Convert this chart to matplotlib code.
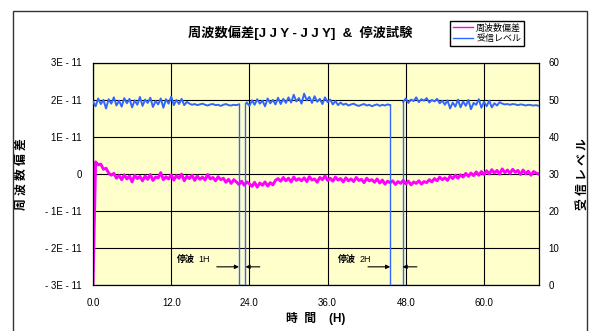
import numpy as np
import matplotlib
matplotlib.use('Agg')
import matplotlib.pyplot as plt
from matplotlib.patches import Rectangle
from matplotlib.lines import Line2D

plt.rcParams['font.family'] = ['Liberation Sans', 'Noto Sans CJK JP', 'DejaVu Sans']

# one reading every 0.4 h
hours = np.round(np.arange(0, 68.41, 0.4), 1)

# frequency deviation JJY-JJY, in units of 1E-12
freq_dev = [
    -30, 3.2, 2.4, 2.6, 1.2, 1.5, 0.2, -0.4, 0.1, -1.2,
    -0.5, -1.6, -0.3, -1.4, -0.6, -2.2, -0.4, -1.3, -0.7, -1.9,
    -0.6, -1.5, -0.2, -1.8, -0.9, -1.1, 0.3, -1.6, -0.8, -1.4,
    -0.3, -1.7, -0.5, -1.2, -0.1, -1.9, -0.7, -1.3, -0.4, -1.8,
    -0.6, -1.5, -0.9, -1.7, -0.2, -1.4, -1.0, -1.9, -0.8, -1.6,
    -1.2, -2.3, -1.5, -2.6, -1.6, -2.2, -2.9, -2.0, -3.1, -2.2,
    -2.7, -3.4, -2.3, -3.6, -2.5, -3.1, -2.2, -3.3, -2.4, -3.0,
    -1.8, -1.3, -2.0, -1.0, -1.9, -1.2, -2.2, -0.9, -1.8, -1.3,
    -1.9, -1.1, -2.1, -0.8, -1.7, -1.4, -2.3, -1.0, -1.6, -0.6,
    -1.8, -1.2, -2.0, -0.9, -1.7, -1.3, -2.2, -1.1, -1.9, -1.4,
    -2.1, -1.0, -1.8, -1.5, -2.4, -1.2, -1.9, -1.6, -2.3, -1.4,
    -2.5, -1.7, -2.8, -2.0, -2.4, -1.9, -2.9, -2.1, -2.6, -1.8,
    -2.7, -2.0, -3.0, -2.2, -2.6, -1.9, -2.8, -2.1, -2.4, -1.6,
    -2.2, -1.3, -1.9, -0.9, -1.6, -1.1, -1.8, -0.6, -1.3, -0.4,
    -1.2, -0.3, -0.9, 0.1, -0.7, 0.2, -0.5, 0.5, -0.4, 0.6,
    -0.2, 0.8, 0.0, 1.1, 0.2, 0.9, -0.1, 1.3, 0.3, 1.0,
    0.1, 1.2, 0.4, 0.9, -0.2, 1.0, 0.0, 0.7, -0.4, 0.6,
    0.2, -0.1,
]

# received level (0 while the carrier is stopped)
level = [
    49.5, 48.2, 50.3, 48.8, 49.9, 47.6, 50.1, 48.9, 50.6, 48.4,
    49.7, 48.1, 50.4, 49.0, 50.2, 47.9, 49.8, 48.6, 50.7, 48.3,
    50.0, 49.1, 50.5, 48.0, 49.6, 48.7, 50.3, 47.8, 50.1, 48.9,
    50.8, 48.5, 49.9,
    48.8, 50.2, 48.5, 49.4,
    48.9, 48.6, 48.8, 48.5, 48.7, 48.9, 48.6, 48.4, 48.7, 48.8,
    48.5, 48.6, 48.3, 48.6, 48.8, 48.5, 48.4, 48.6, 48.5, 48.7,
    0, 0,
    49.2, 48.3, 49.8, 48.6, 50.1, 48.9, 49.7, 48.2, 50.3, 49.0,
    49.9, 48.7, 50.5, 48.8, 50.2, 49.1,
    50.6, 49.2, 51.3, 49.5, 50.4, 48.9, 51.6, 49.8, 50.7, 49.1,
    50.9, 49.4, 50.2, 48.8, 50.6, 49.3, 50.0, 48.7,
    49.6, 48.5, 49.2, 48.6, 48.9, 48.4, 48.7, 48.9, 48.5, 48.3,
    48.6, 48.8, 48.4, 48.6, 48.2, 48.5, 48.7, 48.3, 48.6, 48.4,
    48.7, 48.5,
    0, 0, 0, 0,
    49.4, 50.3, 49.1, 50.0, 49.6, 50.6, 49.3, 50.1, 49.7, 50.4,
    49.2, 49.9, 49.5, 50.2, 49.0, 49.7,
    48.6, 49.8, 47.6, 49.2, 48.1, 50.0, 47.9, 49.5, 48.3, 49.9,
    47.4, 49.1, 48.6, 50.1, 47.8, 49.4, 48.2, 49.7, 47.9, 49.0,
    48.4, 49.3,
    48.9, 48.7, 48.8, 48.6, 48.8, 48.7, 48.5, 48.7, 48.6, 48.4,
    48.6, 48.5, 48.4, 48.5, 48.3,
]

# carrier stop test: off / back on [h]
stop_on = [22.4, 45.6]
stop_off = [23.4, 47.5]
stop_labels = ['1H', '2H']

x_ticks = [0, 12, 24, 36, 48, 60]
freq_ticks = [-3e-11, -2e-11, -1e-11, 0, 1e-11, 2e-11, 3e-11]
freq_labels = ['-3E-11', '-2E-11', '-1E-11', '0', '1E-11', '2E-11', '3E-11']
level_ticks = [0, 10, 20, 30, 40, 50, 60]

MAGENTA = '#FF00FF'
BLUE = '#3366FF'
W, H = 597, 331

freq = np.array(freq_dev) * 1e-12
level = np.array(level)

fig = plt.figure(figsize=(W / 100, H / 100), dpi=100)
ax = fig.add_axes([93 / W, 1 - 285 / H, (539 - 93) / W, (285 - 62.5) / H])
ax.set_facecolor('#FFFFCC')

ax.plot(hours, freq, color=MAGENTA, lw=2.1)
ax.set_xlim(0, 68.44)
ax.set_ylim(-3e-11, 3e-11)
ax.set_xticks(x_ticks)
ax.set_xticklabels([f'{t:.1f}' for t in x_ticks])
ax.set_yticks(freq_ticks)
ax.set_yticklabels([s.replace('-', ' - ').strip() for s in freq_labels])
ax.grid(True, color='black', lw=0.8)
ax.tick_params(axis='x', length=0, pad=9, labelsize=7)
ax.tick_params(axis='y', length=0, pad=8, labelsize=7)
for sp in ax.spines.values():
    sp.set_color('black')
    sp.set_linewidth(0.9)

ax2 = ax.twinx()
level_line = np.where(level > 0, level, np.nan)
ax2.plot(hours, level_line, color=BLUE, lw=1.4)
for on, off in zip(stop_on, stop_off):
    before = level[hours <= on][-1]
    t_after = hours[hours >= off][0]
    after = level[hours >= off][0]
    ax2.plot([on, on, off, off, t_after], [before, 0, 0, after, after],
             color=BLUE, lw=1.0)
ax2.set_ylim(0, 60)
ax2.set_yticks(level_ticks)
ax2.tick_params(axis='y', length=0, pad=7, labelsize=7)
for sp in ax2.spines.values():
    sp.set_visible(False)

# arrows marking each stop
for on, off, lab, t0 in zip(stop_on, stop_off, stop_labels, [12.9, 37.6]):
    ax2.text(t0, 6.8, '停波', fontsize=6.5, fontweight='bold', va='center')
    ax2.text(t0 + 3.3, 6.8, lab, fontsize=6.5, va='center')
    ax2.annotate('', xy=(on, 4.9), xytext=(on - 3.4, 4.9),
                 arrowprops=dict(arrowstyle='-|>', color='black', lw=0.8,
                                 mutation_scale=6, shrinkA=0, shrinkB=0))
    ax2.annotate('', xy=(off, 4.9), xytext=(off + 2.2, 4.9),
                 arrowprops=dict(arrowstyle='-|>', color='black', lw=0.8,
                                 mutation_scale=6, shrinkA=0, shrinkB=0))

ax.set_ylabel('周 波 数 偏 差', fontsize=8.5, fontweight='bold')
ax.yaxis.set_label_coords(-0.146, 0.5)
ax2.set_ylabel('受 信 レ ベ ル', fontsize=8.5, fontweight='bold')
ax2.yaxis.set_label_coords(1.085, 0.5)
ax.set_xlabel('時  間    (H)', fontsize=8.5, fontweight='bold')
ax.xaxis.set_label_coords(0.5, -0.12)

fig.text(300 / W, 1 - 33 / H, '周波数偏差[J J Y - J J Y]  &  停波試験',
         fontsize=9.5, fontweight='bold', ha='center', va='center')

handles = [Line2D([], [], color=MAGENTA, lw=1.0, label='周波数偏差'),
           Line2D([], [], color=BLUE, lw=1.0, label='受信レベル')]
fig.legend(handles=handles, loc='upper left',
           bbox_to_anchor=(450 / W, 1 - 20.5 / H), fontsize=6.5,
           frameon=True, fancybox=False, edgecolor='black', framealpha=1,
           borderaxespad=0, borderpad=0.3, labelspacing=0.2,
           handlelength=2.3, handletextpad=0.3)

# chart area border
fig.patches.append(Rectangle((13 / W, -0.1), (587 - 13) / W, 1.1 - 11 / H,
                             transform=fig.transFigure, fill=False,
                             edgecolor='#333333', lw=1.0))

fig.savefig('out.png', dpi=100)
